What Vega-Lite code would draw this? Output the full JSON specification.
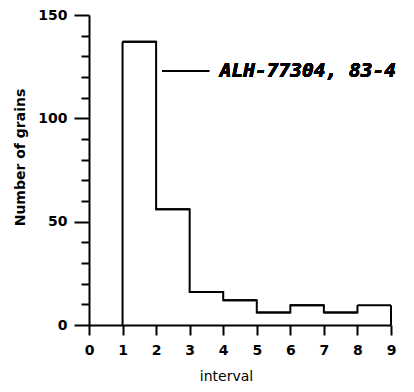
{
  "$schema": "https://vega.github.io/schema/vega-lite/v6.json",
  "width": 302,
  "height": 310,
  "autosize": "none",
  "padding": {"left": 89, "top": 15, "right": 23, "bottom": 67},
  "background": "white",
  "config": {
    "view": {"stroke": null},
    "axis": {
      "domainColor": "black",
      "domainWidth": 2,
      "tickColor": "black",
      "tickWidth": 2,
      "grid": false,
      "labelFont": "DejaVu Sans",
      "labelFontWeight": "bold",
      "labelFontSize": 14,
      "labelColor": "black",
      "titleFont": "DejaVu Sans",
      "titleColor": "black"
    }
  },
  "data": {
    "values": [
      {"start": 1, "end": 2, "count": 137},
      {"start": 2, "end": 3, "count": 56},
      {"start": 3, "end": 4, "count": 16},
      {"start": 4, "end": 5, "count": 12},
      {"start": 5, "end": 6, "count": 6},
      {"start": 6, "end": 7, "count": 9.5},
      {"start": 7, "end": 8, "count": 6},
      {"start": 8, "end": 9, "count": 9.5}
    ]
  },
  "encoding": {
    "x": {
      "field": "start",
      "type": "quantitative",
      "scale": {"domain": [0, 9], "nice": false, "zero": false},
      "axis": {
        "title": "interval",
        "titleFontSize": 14,
        "titleFontWeight": "normal",
        "titleX": 137,
        "values": [0, 1, 2, 3, 4, 5, 6, 7, 8, 9],
        "labelOverlap": false,
        "tickSize": 10,
        "labelPadding": 8,
        "labelFlush": false,
        "titlePadding": 12
      }
    },
    "y": {
      "field": "count",
      "type": "quantitative",
      "scale": {"domain": [0, 150], "nice": false},
      "axis": {
        "title": "Number of grains",
        "titleFontSize": 14,
        "titleFontWeight": "bold",
        "titleY": 142,
        "values": [0, 10, 20, 30, 40, 50, 60, 70, 80, 90, 100, 110, 120, 130, 140, 150],
        "labelExpr": "datum.value % 50 === 0 ? datum.label : ''",
        "labelOverlap": false,
        "labelFlush": false,
        "tickSize": {"condition": {"test": "datum.value % 50 === 0", "value": 15}, "value": 8},
        "labelPadding": 7,
        "titlePadding": 10
      }
    }
  },
  "layer": [
    {
      "mark": {"type": "rule", "color": "black", "strokeWidth": 2},
      "encoding": {
        "x2": {"field": "end"}
      }
    },
    {
      "mark": {"type": "line", "interpolate": "step-after", "color": "black", "strokeWidth": 2},
      "encoding": {}
    },
    {
      "transform": [{"filter": "datum.start === 1"}],
      "mark": {"type": "rule", "color": "black", "strokeWidth": 2},
      "encoding": {
        "y2": {"datum": 0}
      }
    },
    {
      "transform": [{"filter": "datum.end === 9"}],
      "mark": {"type": "rule", "color": "black", "strokeWidth": 2},
      "encoding": {
        "x": {"field": "end", "type": "quantitative"},
        "y2": {"datum": 0}
      }
    },
    {
      "mark": {"type": "rule", "color": "black", "strokeWidth": 1.5},
      "encoding": {
        "x": {"datum": 2.18},
        "x2": {"datum": 3.58},
        "y": {"datum": 123}
      }
    },
    {
      "mark": {
        "type": "text",
        "text": "ALH-77304, 83-4",
        "font": "DejaVu Sans Mono",
        "fontWeight": "bold",
        "fontStyle": "italic",
        "fontSize": 19.5,
        "align": "left",
        "baseline": "middle",
        "color": "black"
      },
      "encoding": {
        "x": {"datum": 3.9},
        "y": {"datum": 123}
      }
    }
  ]
}
